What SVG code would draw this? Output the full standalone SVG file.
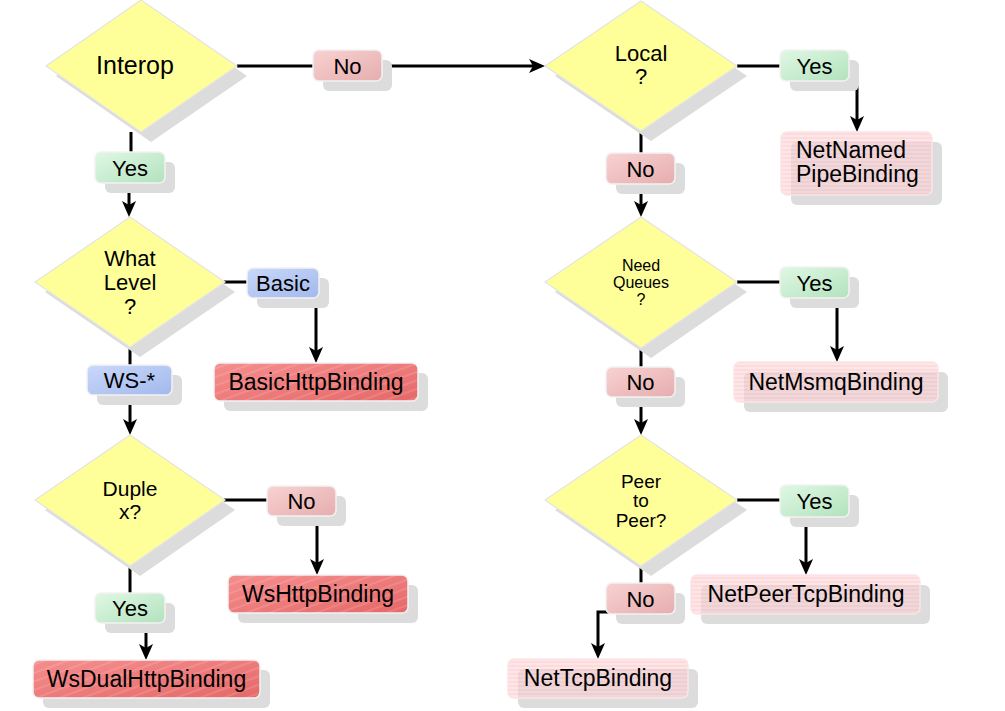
<svg xmlns="http://www.w3.org/2000/svg" width="1005" height="711" viewBox="0 0 1005 711">
<style>
text{font-family:"Liberation Sans",Arial,sans-serif;fill:#000}
.dtext{text-anchor:middle}
.ltext{font-size:22px;text-anchor:middle}
.btext{font-size:23px;text-anchor:middle}
.diamond{fill:#ffff99;stroke:#e4e4e4;stroke-width:1.2}
.shadow{fill:#dcdcdc}
.yes{fill:url(#gYes);stroke:#f2f2f2;stroke-width:1.5}
.no{fill:url(#gNo);stroke:#f2f2f2;stroke-width:1.5}
.blue{fill:url(#gBlue);stroke:#f2f2f2;stroke-width:1.5}
.red{fill:url(#gRed);stroke:#f2f2f2;stroke-width:1.5}
.pale{fill:url(#pPale);stroke:#fbe4e6;stroke-width:1.5;fill-opacity:0.62}
.conn line,.conn path{stroke:#000;stroke-width:3;fill:none}
.arr{marker-end:url(#ah)}
</style>
<defs>
<marker id="ah" markerUnits="userSpaceOnUse" markerWidth="16" markerHeight="14" viewBox="0 0 16 14" refX="4" refY="7" orient="auto">
<path d="M0,0 L16,7 L0,14 L4,7 Z" fill="#000"/>
</marker>
<linearGradient id="gYes" x1="0" y1="0" x2="1" y2="1">
<stop offset="0" stop-color="#e0f8e4"/><stop offset="1" stop-color="#b2e2bd"/>
</linearGradient>
<linearGradient id="gNo" x1="0" y1="0" x2="1" y2="1">
<stop offset="0" stop-color="#f8d2d2"/><stop offset="1" stop-color="#e6adae"/>
</linearGradient>
<linearGradient id="gBlue" x1="0" y1="0" x2="1" y2="1">
<stop offset="0" stop-color="#cad8fa"/><stop offset="1" stop-color="#a2b9ec"/>
</linearGradient>
<linearGradient id="gRed" x1="0" y1="0" x2="1" y2="1">
<stop offset="0" stop-color="#f58e8e"/><stop offset="1" stop-color="#e66868"/>
</linearGradient>
<pattern id="stripesDiag" width="8" height="8" patternUnits="userSpaceOnUse" patternTransform="rotate(-20)">
<line x1="0" y1="4" x2="8" y2="4" stroke="#ffffff" stroke-opacity="0.25" stroke-width="1"/>
</pattern>
<pattern id="pPale" width="6" height="4" patternUnits="userSpaceOnUse">
<rect width="6" height="4" fill="#fdd6d8"/>
<line x1="0" y1="2" x2="6" y2="2" stroke="#f6b4bc" stroke-width="1"/>
</pattern>
</defs>
<rect width="1005" height="711" fill="#ffffff"/>

<g id="connectors" class="conn">
<line x1="237" y1="66" x2="313" y2="66"/>
<line class="arr" x1="382" y1="66" x2="533" y2="66"/>
<line x1="131" y1="132" x2="131" y2="152"/>
<line class="arr" x1="129" y1="183" x2="129" y2="205"/>
<line x1="224" y1="282" x2="247" y2="282"/>
<line class="arr" x1="316" y1="298" x2="316" y2="351"/>
<line x1="130" y1="347" x2="130" y2="365"/>
<line class="arr" x1="130" y1="395" x2="130" y2="423"/>
<line x1="224" y1="500" x2="267" y2="500"/>
<line class="arr" x1="317" y1="516" x2="317" y2="563"/>
<line x1="130" y1="566" x2="130" y2="593"/>
<line class="arr" x1="146" y1="623" x2="146" y2="648"/>
<line x1="737" y1="66" x2="780" y2="66"/>
<line class="arr" x1="857" y1="81" x2="857" y2="120"/>
<line x1="641" y1="130" x2="641" y2="153"/>
<line class="arr" x1="641" y1="184" x2="641" y2="205"/>
<line x1="737" y1="282" x2="780" y2="282"/>
<line class="arr" x1="837" y1="298" x2="837" y2="350"/>
<line x1="641" y1="348" x2="641" y2="367"/>
<line class="arr" x1="641" y1="397" x2="641" y2="423"/>
<line x1="737" y1="500" x2="780" y2="500"/>
<line class="arr" x1="806" y1="517" x2="806" y2="563"/>
<line x1="641" y1="566" x2="641" y2="583"/>
<path class="arr" d="M610,612 H598 V647"/>
</g>

<g id="interop">
<polygon class="shadow" points="151,10 247,76 151,142 56,76"/>
<polygon class="diamond" points="141,0 237,66 141,132 46,66"/>
<text class="dtext" x="135" y="74" font-size="25">Interop</text>
</g>

<g id="interop-no">
<rect class="shadow" x="323" y="60" width="69" height="31" rx="6"/>
<rect class="no" x="313" y="50" width="69" height="31" rx="6"/>
<text class="ltext" x="347.5" y="73.5">No</text>
</g>

<g id="interop-yes">
<rect class="shadow" x="105" y="162" width="70" height="31" rx="6"/>
<rect class="yes" x="95" y="152" width="70" height="31" rx="6"/>
<text class="ltext" x="130" y="175.5">Yes</text>
</g>

<g id="whatlevel">
<polygon class="shadow" points="140,227 235,292 140,357 45,292"/>
<polygon class="diamond" points="130,217 225,282 130,347 35,282"/>
<text class="dtext" font-size="22"><tspan x="130" y="266">What</tspan><tspan x="130" y="290">Level</tspan><tspan x="130" y="314">?</tspan></text>
</g>

<g id="basic">
<rect class="shadow" x="257" y="278" width="72" height="30" rx="6"/>
<rect class="blue" x="247" y="268" width="72" height="30" rx="6"/>
<text class="ltext" x="283" y="290.5">Basic</text>
</g>

<g id="basichttpbinding">
<rect class="shadow" x="224" y="373" width="204" height="38" rx="6"/>
<rect class="red" x="214" y="363" width="204" height="38" rx="6"/>
<rect x="214" y="363" width="204" height="38" rx="6" fill="url(#stripesDiag)"/>
<text class="btext" x="316" y="390">BasicHttpBinding</text>
</g>

<g id="wsstar">
<rect class="shadow" x="97" y="375" width="85" height="30" rx="6"/>
<rect class="blue" x="87" y="365" width="85" height="30" rx="6"/>
<text class="ltext" x="129.5" y="387.5">WS-*</text>
</g>

<g id="duplex">
<polygon class="shadow" points="140,445 235,510 140,576 45,510"/>
<polygon class="diamond" points="130,435 225,500 130,566 35,500"/>
<text class="dtext" font-size="21"><tspan x="130" y="496">Duple</tspan><tspan x="130" y="519">x?</tspan></text>
</g>

<g id="duplex-no">
<rect class="shadow" x="277" y="496" width="69" height="30" rx="6"/>
<rect class="no" x="267" y="486" width="69" height="30" rx="6"/>
<text class="ltext" x="301.5" y="508.5">No</text>
</g>

<g id="wshttpbinding">
<rect class="shadow" x="238" y="585" width="180" height="38" rx="6"/>
<rect class="red" x="228" y="575" width="180" height="38" rx="6"/>
<rect x="228" y="575" width="180" height="38" rx="6" fill="url(#stripesDiag)"/>
<text class="btext" x="318" y="602">WsHttpBinding</text>
</g>

<g id="duplex-yes">
<rect class="shadow" x="105" y="603" width="70" height="30" rx="6"/>
<rect class="yes" x="95" y="593" width="70" height="30" rx="6"/>
<text class="ltext" x="130" y="615.5">Yes</text>
</g>

<g id="wsdualhttpbinding">
<rect class="shadow" x="43" y="670" width="227" height="38" rx="6"/>
<rect class="red" x="33" y="660" width="227" height="38" rx="6"/>
<rect x="33" y="660" width="227" height="38" rx="6" fill="url(#stripesDiag)"/>
<text class="btext" x="146.5" y="687">WsDualHttpBinding</text>
</g>

<g id="local">
<polygon class="shadow" points="651,11 747,76 651,141 555,76"/>
<polygon class="diamond" points="641,1 737,66 641,131 545,66"/>
<text class="dtext" font-size="22"><tspan x="641" y="61">Local</tspan><tspan x="641" y="84">?</tspan></text>
</g>

<g id="local-yes">
<rect class="shadow" x="790" y="60" width="69" height="31" rx="6"/>
<rect class="yes" x="780" y="50" width="69" height="31" rx="6"/>
<text class="ltext" x="814.5" y="73.5">Yes</text>
</g>

<g id="netnamedpipebinding">
<rect class="shadow" x="791" y="142" width="151" height="63" rx="6"/>
<rect class="pale" x="781" y="132" width="151" height="63" rx="6"/>
<text font-size="23"><tspan x="796" y="158">NetNamed</tspan><tspan x="796" y="182">PipeBinding</tspan></text>
</g>

<g id="local-no">
<rect class="shadow" x="616" y="163" width="69" height="31" rx="6"/>
<rect class="no" x="606" y="153" width="69" height="31" rx="6"/>
<text class="ltext" x="640.5" y="176.5">No</text>
</g>

<g id="needqueues">
<polygon class="shadow" points="651,227 747,292 651,358 555,292"/>
<polygon class="diamond" points="641,217 737,282 641,348 545,282"/>
<text class="dtext" font-size="16"><tspan x="641" y="271">Need</tspan><tspan x="641" y="288">Queues</tspan><tspan x="641" y="305">?</tspan></text>
</g>

<g id="needqueues-yes">
<rect class="shadow" x="790" y="277" width="69" height="31" rx="6"/>
<rect class="yes" x="780" y="267" width="69" height="31" rx="6"/>
<text class="ltext" x="814.5" y="290.5">Yes</text>
</g>

<g id="netmsmqbinding">
<rect class="shadow" x="744" y="372" width="204" height="40" rx="6"/>
<rect class="pale" x="734" y="362" width="204" height="40" rx="6"/>
<text class="btext" x="836" y="390">NetMsmqBinding</text>
</g>

<g id="needqueues-no">
<rect class="shadow" x="616" y="377" width="69" height="30" rx="6"/>
<rect class="no" x="606" y="367" width="69" height="30" rx="6"/>
<text class="ltext" x="640.5" y="389.5">No</text>
</g>

<g id="peertopeer">
<polygon class="shadow" points="651,445 747,510 651,576 555,510"/>
<polygon class="diamond" points="641,435 737,500 641,566 545,500"/>
<text class="dtext" font-size="19"><tspan x="641" y="488">Peer</tspan><tspan x="641" y="507">to</tspan><tspan x="641" y="527">Peer?</tspan></text>
</g>

<g id="peertopeer-yes">
<rect class="shadow" x="790" y="495" width="69" height="32" rx="6"/>
<rect class="yes" x="780" y="485" width="69" height="32" rx="6"/>
<text class="ltext" x="814.5" y="509">Yes</text>
</g>

<g id="netpeertcpbinding">
<rect class="shadow" x="701" y="585" width="229" height="39" rx="6"/>
<rect class="pale" x="691" y="575" width="229" height="39" rx="6"/>
<text class="btext" x="806" y="602">NetPeerTcpBinding</text>
</g>

<g id="peertopeer-no">
<rect class="shadow" x="616" y="593" width="69" height="31" rx="6"/>
<rect class="no" x="606" y="583" width="69" height="31" rx="6"/>
<text class="ltext" x="640.5" y="606.5">No</text>
</g>

<g id="nettcpbinding">
<rect class="shadow" x="518" y="669" width="180" height="39" rx="6"/>
<rect class="pale" x="508" y="659" width="180" height="39" rx="6"/>
<text class="btext" x="598" y="686">NetTcpBinding</text>
</g>
</svg>
